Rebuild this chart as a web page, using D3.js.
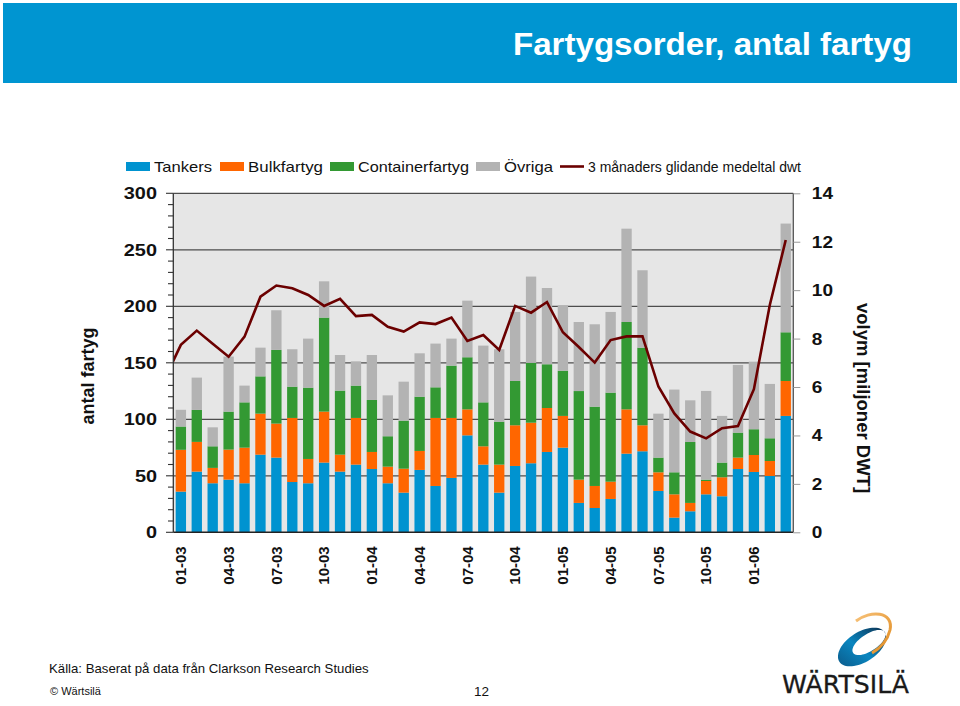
<!DOCTYPE html>
<html><head><meta charset="utf-8">
<script src="https://cdn.jsdelivr.net/npm/d3@7"></script>
<style>
html,body{margin:0;padding:0;background:#fff;}
svg{display:block;font-family:"Liberation Sans",Arial,Helvetica,sans-serif;}
</style></head>
<body>
<svg id="chart" width="960" height="706"></svg>
<script>
const months = ["01-03","02-03","03-03","04-03","05-03","06-03","07-03","08-03","09-03","10-03","11-03","12-03",
"01-04","02-04","03-04","04-04","05-04","06-04","07-04","08-04","09-04","10-04","11-04","12-04",
"01-05","02-05","03-05","04-05","05-05","06-05","07-05","08-05","09-05","10-05","11-05","12-05",
"01-06","02-06","03-06"];
const tickLabels = ["01-03","04-03","07-03","10-03","01-04","04-04","07-04","10-04","01-05","04-05","07-05","10-05","01-06"];
const tankers = [36,53.7,43.4,46.6,43.4,68.7,66.1,44.5,43.4,61.7,53.7,59.9,56,43.4,35.1,55.2,41,48.1,85.8,59.9,35.1,58.7,61.1,71.1,74.9,26,21.5,29.5,69.6,71.7,36.6,13,18.6,33.6,31.9,56,53.4,49.9,103];
const bulk = [37,26.3,13.6,26.6,31.5,36.3,30.1,56.7,21.5,45.1,15,41.3,15.1,14.7,21.2,16.8,60.2,53.1,23,16.2,24.8,36,35.9,38.9,28.1,20.6,19.5,15.3,39.2,23,16.5,20.6,7.4,11.8,16.8,10.1,15,13.2,30.9];
const container = [20.6,28.3,19.1,33.6,40.1,33,65.2,27.7,63.1,83.2,56.7,28.6,46,26.9,42.5,48,27.1,46.3,46.1,38.9,38,39.2,52.9,38.7,40,78.4,70.2,78.8,77.3,68.7,13,19.5,53.9,1.2,13,22.1,22.8,20.1,43.1];
const ovriga = [14.8,28.6,16.8,48.7,14.8,25.4,35.1,33.1,43.4,32.1,31.5,21.5,39.8,36.2,34.5,38.4,38.7,23.9,50.1,50.2,64.1,61.1,76.4,67.5,57.9,61.1,72.9,71.4,82.6,68.5,38.9,73.2,36.9,78.5,41.3,59.9,59.8,48.1,96.2];
const dwt = [7.74,8.33,7.79,7.25,8.08,9.73,10.19,10.08,9.80,9.35,9.64,8.93,8.98,8.49,8.29,8.67,8.60,8.87,7.90,8.15,7.53,9.35,9.07,9.51,8.26,7.65,7.01,7.94,8.09,8.09,6.02,4.91,4.16,3.88,4.30,4.39,5.91,9.39,12.07];
const dwtPrev = 6.36; // value for 12-02, only partly visible at left edge
const leftTicks = [0,50,100,150,200,250,300];
const rightTicks = [0,2,4,6,8,10,12,14];
const seriesNames = ["Tankers","Bulkfartyg","Containerfartyg","Övriga"];
const lineName = "3 månaders glidande medeltal dwt";
const colors = ["#0093d0","#ff6600","#339933","#b3b3b3"];
const lineColor = "#6b0000";

const svg = d3.select("#chart");
const X0 = 173.3, X1 = 793.3, Y0 = 532.3, Y1 = 193.3;

// banner
svg.append("rect").attr("x",3).attr("y",3).attr("width",954).attr("height",80).attr("fill","#0095d1");
svg.append("text").attr("x",912).attr("y",55).attr("text-anchor","end")
  .attr("fill","#fff").attr("font-weight","bold").attr("font-size",31)
  .attr("font-family","'Liberation Sans Narrow','Arial Narrow','Liberation Sans',Arial,sans-serif")
  .attr("textLength",399).attr("lengthAdjust","spacingAndGlyphs")
  .text("Fartygsorder, antal fartyg");

const x = d3.scaleBand().domain(months).range([X0,X1]).paddingInner(0.35).paddingOuter(0.15);
const y = d3.scaleLinear().domain([0,300]).range([Y0,Y1]);
const y2 = d3.scaleLinear().domain([0,14]).range([Y0,Y1]);

// plot background
svg.append("rect").attr("x",X0).attr("y",Y1).attr("width",X1-X0).attr("height",Y0-Y1).attr("fill","#e6e6e6");

// gridlines
svg.append("g").selectAll("line").data(leftTicks.filter(d=>d>0)).join("line")
  .attr("x1",X0).attr("x2",X1).attr("y1",d=>y(d)).attr("y2",d=>y(d))
  .attr("stroke","#4d4d4d").attr("stroke-width",1.2);

// stacked bars
const rows = months.map((m,i)=>({m, Tankers:tankers[i], Bulkfartyg:bulk[i], Containerfartyg:container[i], "Övriga":ovriga[i]}));
const stack = d3.stack().keys(seriesNames)(rows);
svg.append("g").selectAll("g").data(stack).join("g").attr("fill",(d,i)=>colors[i])
  .selectAll("rect").data(d=>d).join("rect")
  .attr("x",d=>x(d.data.m)).attr("width",x.bandwidth())
  .attr("y",d=>y(d[1])).attr("height",d=>y(d[0])-y(d[1]));

// line (clipped to plot)
svg.append("clipPath").attr("id","clip").append("rect").attr("x",X0).attr("y",Y1-5).attr("width",X1-X0).attr("height",Y0-Y1+10);
const step = x.step();
const linePts = [{px: x(months[0]) + x.bandwidth()/2 - step, v: dwtPrev}]
  .concat(months.map((m,i)=>({px: x(m)+x.bandwidth()/2, v: dwt[i]})));
svg.append("path").datum(linePts).attr("clip-path","url(#clip)")
  .attr("fill","none").attr("stroke",lineColor).attr("stroke-width",2.6).attr("stroke-linejoin","miter")
  .attr("d",d3.line().x(d=>d.px).y(d=>y2(d.v)));

// frame lines
svg.append("line").attr("x1",X0).attr("x2",X1).attr("y1",Y0).attr("y2",Y0).attr("stroke","#222").attr("stroke-width",1.5);
svg.append("line").attr("x1",X0).attr("x2",X0).attr("y1",Y1).attr("y2",Y0).attr("stroke","#333").attr("stroke-width",1.3);
svg.append("line").attr("x1",X1).attr("x2",X1).attr("y1",Y1).attr("y2",Y0).attr("stroke","#555").attr("stroke-width",1.3);

// left axis
const minor = d3.range(0,301,10);
svg.append("g").selectAll("line").data(minor).join("line")
  .attr("x1",d=>d%50===0?166:168).attr("x2",X0).attr("y1",d=>y(d)).attr("y2",d=>y(d))
  .attr("stroke","#333").attr("stroke-width",1.1);
const leftAxis = d3.axisLeft(y).tickValues(leftTicks).tickSize(0).tickPadding(0);
const gl = svg.append("g").attr("transform","translate(157,0)").call(leftAxis);
gl.select(".domain").remove();
gl.selectAll("text").attr("font-size",17).attr("font-weight","bold").attr("fill","#111")
  .attr("font-family","'Liberation Sans',Arial,sans-serif").attr("transform","scale(1.17,1)");

// right axis
const rightAxis = d3.axisRight(y2).tickValues(rightTicks).tickSize(7).tickPadding(0);
const gr = svg.append("g").attr("transform",`translate(${X1},0)`).call(rightAxis);
gr.select(".domain").remove();
gr.selectAll("line").attr("stroke","#999");
gr.selectAll("text").attr("font-size",17).attr("font-weight","bold").attr("fill","#111")
  .attr("font-family","'Liberation Sans',Arial,sans-serif").attr("x",0)
  .attr("transform","translate(18.5,0) scale(1.12,1)");

// x axis labels
const xAxis = d3.axisBottom(x).tickValues(tickLabels).tickSize(0).tickPadding(0);
const gx = svg.append("g").attr("transform",`translate(0,${Y0})`).call(xAxis);
gx.select(".domain").remove();
gx.selectAll("text").attr("font-size",15).attr("font-weight","bold").attr("fill","#111")
  .attr("font-family","'Liberation Sans',Arial,sans-serif")
  .attr("text-anchor","end").attr("dy","0.35em")
  .attr("transform","translate(0,14) rotate(-90)").attr("x",0).attr("y",0);

// axis titles
svg.append("text").attr("transform","translate(94,376) rotate(-90)").attr("text-anchor","middle")
  .attr("font-size",18).attr("font-weight","bold").attr("fill","#111").text("antal fartyg");
svg.append("text").attr("transform","translate(857,398) rotate(90)").attr("text-anchor","middle")
  .attr("font-size",18.5).attr("font-weight","bold").attr("fill","#111").text("volym [miljoner DWT]");

// legend
const leg = svg.append("g");
const legX = [126,220,330,476];
const legW = [58,75,111,49];
seriesNames.forEach((n,i)=>{
  leg.append("rect").attr("x",legX[i]).attr("y",162).attr("width",24).attr("height",9).attr("fill",colors[i]);
  leg.append("text").attr("x",legX[i]+28).attr("y",171.5).attr("font-size",15).attr("fill","#111")
    .attr("textLength",legW[i]).attr("lengthAdjust","spacingAndGlyphs").text(n);
});
leg.append("line").attr("x1",560).attr("x2",584).attr("y1",166.5).attr("y2",166.5).attr("stroke",lineColor).attr("stroke-width",2.6);
leg.append("text").attr("x",588).attr("y",171.5).attr("font-size",15).attr("fill","#111")
  .attr("textLength",213).attr("lengthAdjust","spacingAndGlyphs").text(lineName);

// footer
svg.append("text").attr("x",49).attr("y",673).attr("font-size",13.2).attr("fill","#111").text("Källa: Baserat på data från Clarkson Research Studies");
svg.append("text").attr("x",50).attr("y",695).attr("font-size",11).attr("fill","#111").text("© Wärtsilä");
svg.append("text").attr("x",474).attr("y",696).attr("font-size",13.5).attr("fill","#111").text("12");

// logo
const logo = svg.append("g");
const defs = svg.append("defs");
const gr1 = defs.append("linearGradient").attr("id","lg1").attr("x1","0").attr("y1","1").attr("x2","1").attr("y2","0");
gr1.append("stop").attr("offset","0").attr("stop-color","#0b5c8c");
gr1.append("stop").attr("offset","0.45").attr("stop-color","#0a86c0");
gr1.append("stop").attr("offset","1").attr("stop-color","#0c2f4f");
const gr2 = defs.append("linearGradient").attr("id","lg2").attr("x1","0").attr("y1","0").attr("x2","1").attr("y2","1");
gr2.append("stop").attr("offset","0").attr("stop-color","#f7c27a");
gr2.append("stop").attr("offset","1").attr("stop-color","#e08a1e");
function ellipsePath(cx,cy,rx,ry,rot){
  const pts=[]; const a=rot*Math.PI/180;
  for(let k=0;k<=64;k++){const t=k/64*2*Math.PI; const ex=rx*Math.cos(t), ey=ry*Math.sin(t);
    pts.push([cx+ex*Math.cos(a)-ey*Math.sin(a), cy+ex*Math.sin(a)+ey*Math.cos(a)]);}
  return "M"+pts.map(p=>p[0].toFixed(1)+","+p[1].toFixed(1)).join("L")+"Z";
}
logo.append("path").attr("fill","url(#lg1)").attr("fill-rule","evenodd")
  .attr("d",ellipsePath(862,647,27,15,-33)+ellipsePath(869,642.5,19,8.5,-33));
logo.append("path").attr("fill","none").attr("stroke","url(#lg2)").attr("stroke-width",3)
  .attr("d","M 856 621 C 870 610, 894 611, 890 630 C 887 642, 879 649, 872 653");
logo.append("text").attr("x",782).attr("y",693).attr("font-size",25)
  .attr("font-family","'DejaVu Sans','Liberation Sans',sans-serif").attr("fill","#1a1a1a")
  .attr("stroke","#1a1a1a").attr("stroke-width",0.3)
  .attr("textLength",127).attr("lengthAdjust","spacingAndGlyphs").text("WÄRTSILÄ");
</script>
</body></html>
